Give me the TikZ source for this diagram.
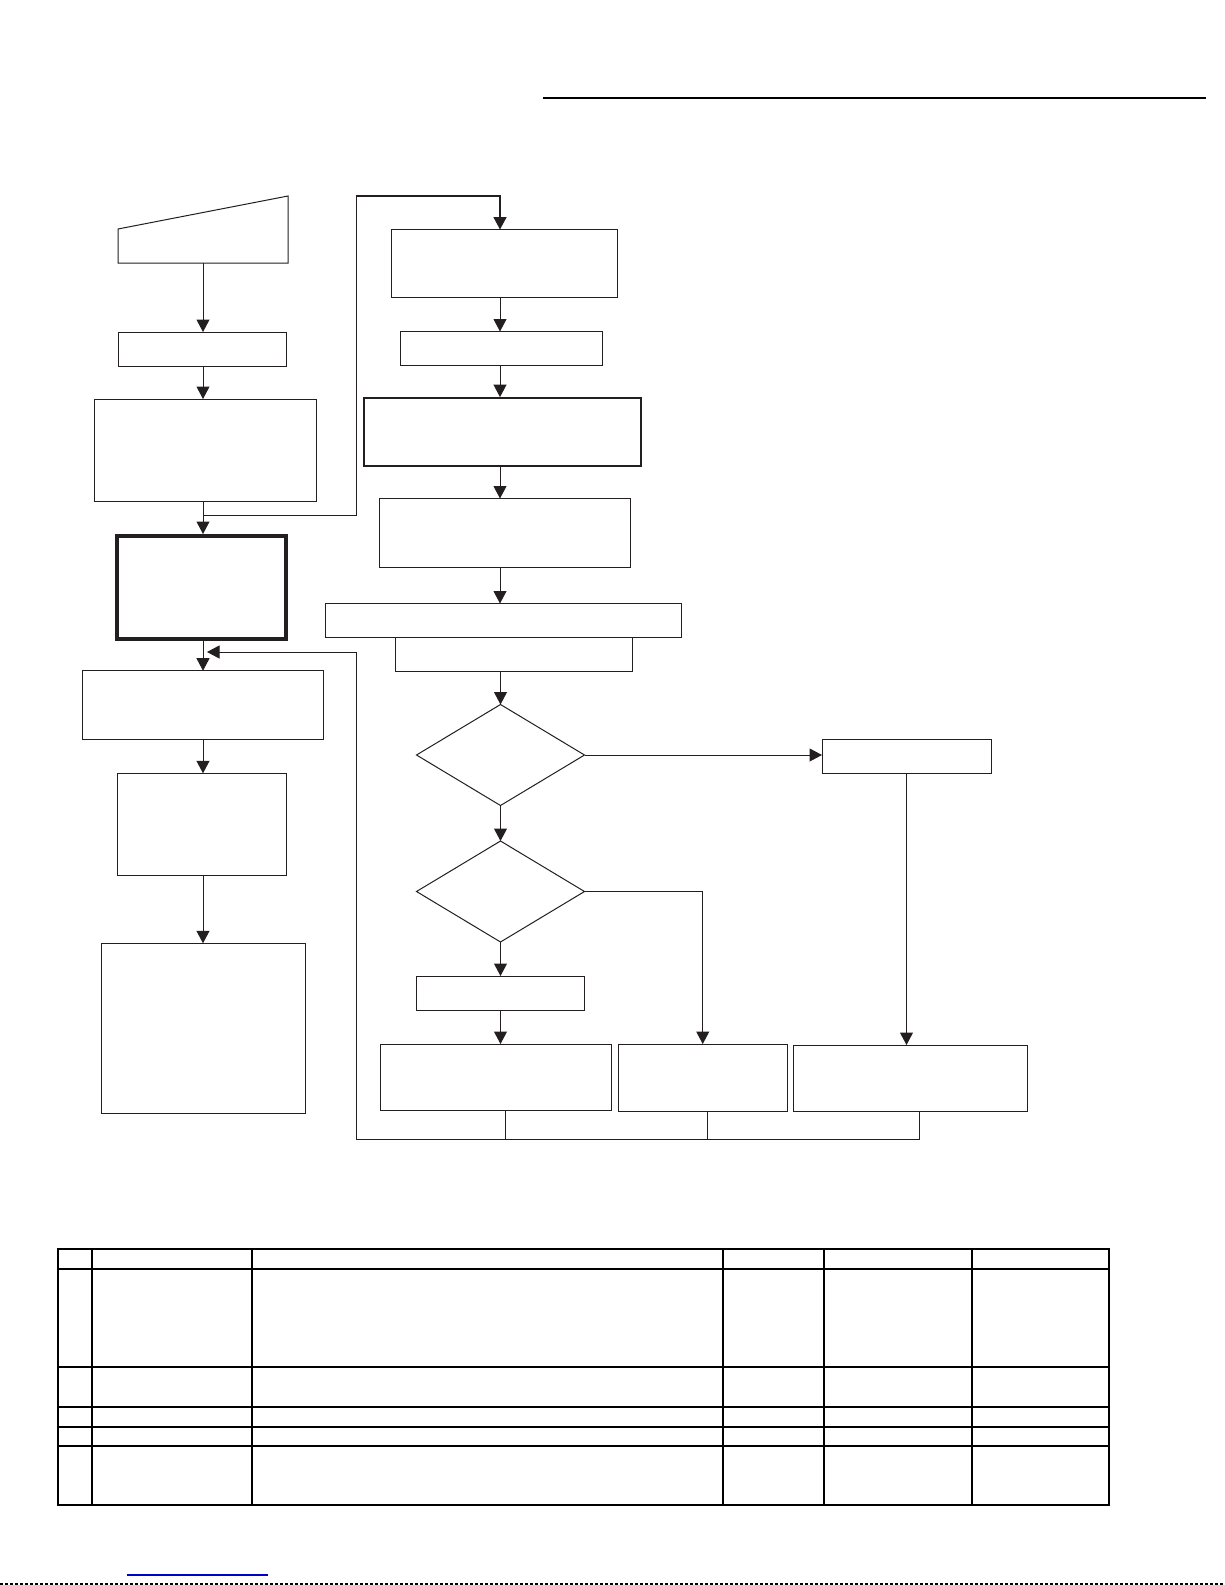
\documentclass[tikz,border=0pt]{standalone}
\usetikzlibrary{arrows.meta,shapes.geometric}
\definecolor{ink}{HTML}{231F20}
\definecolor{linkblue}{RGB}{0,0,204}
\newcommand\pbox[6]{%
  \pgfmathsetmacro\pbcx{(#3+#5)/2}%
  \pgfmathsetmacro\pbcy{(#4+#6)/2}%
  \pgfmathsetmacro\pbw{#5-#3}%
  \pgfmathsetmacro\pbh{#6-#4}%
  \node[#1,minimum width=\pbw pt,minimum height=\pbh pt] (#2) at (\pbcx,\pbcy) {};}
\begin{document}
\begin{tikzpicture}[x=1pt,y=-1pt,
  line/.style={draw=ink,line width=1pt,line join=miter},
  box/.style={draw=ink,line width=1pt,rectangle,inner sep=0pt,outer sep=0pt},
  thickbox/.style={box,line width=4pt},
  medbox/.style={box,line width=1.8pt},
  dec/.style={draw=ink,line width=1pt,diamond,inner sep=0pt,outer sep=0pt,minimum width=168pt,minimum height=101pt},
  arr/.style={line,-{Triangle[width=13pt,length=12.5pt]}},
  tbl/.style={draw=black,line width=1.3pt},
  tblthick/.style={draw=black,line width=2.6pt}]
\useasboundingbox (0,0) rectangle (1225,1585);
\fill[white] (0,0) rectangle (1225,1585);

% header rule
\draw[black,line width=2.2pt] (543,98) -- (1206,98);

% left column
\draw[line] (118,229) -- (288,196) -- (288,263) -- (118,263) -- cycle;
\coordinate (mi) at (203,263);
\pbox{box}{b1}{118}{332}{286}{366}
\pbox{box}{b2}{94.5}{399}{316.5}{501}
\pbox{thickbox}{b3}{117.3}{536}{286.3}{638.7}
\pbox{box}{b5}{82.3}{670.7}{323.5}{739}
\pbox{box}{b6}{117.3}{773.3}{286.7}{875}
\pbox{box}{b7}{101.3}{943.3}{305.7}{1113.3}

% right column
\pbox{box}{b4}{391.5}{229.5}{617}{297}
\pbox{box}{r2}{400.5}{331.5}{602.7}{365}
\pbox{medbox}{r3}{364}{398}{641}{466}
\pbox{box}{r4}{379}{498.5}{630}{567}
\pbox{box}{r5}{325.5}{603.5}{681.5}{637}
\pbox{box}{r6}{395.7}{637}{632.5}{671.5}
\node[dec] (d1) at (500.5,755) {};
\node[dec] (d2) at (500.5,891.5) {};
\pbox{box}{rr}{822}{739}{991}{773}
\pbox{box}{rb}{416.5}{976}{584.5}{1010}
\pbox{box}{q1}{380}{1044}{611.5}{1110.5}
\pbox{box}{q2}{618.5}{1044}{787}{1111.5}
\pbox{box}{q3}{793}{1045}{1027}{1111.5}

% left connectors
\coordinate (lc) at (203,0);
\draw[arr] (mi) -- (mi |- b1.north);
\draw[arr] (b1.south -| lc) -- (b2.north -| lc);
\draw[arr] (b2.south -| lc) -- ([yshift=2pt]b3.north -| lc);
\draw[arr] ([yshift=-2pt]b3.south -| lc) -- (b5.north -| lc);
\draw[arr] (b5.south -| lc) -- (b6.north -| lc);
\draw[arr] (b6.south -| lc) -- (b7.north -| lc);

% branch to right column
\coordinate (br) at (203,515);
\coordinate (c1) at (356,515);
\coordinate (c2) at (356,196);
\coordinate (c3) at (500,196);
\draw[line] (br) -- (c1) -- (c2);
\draw[arr,line width=1.8pt] (c2) -- (c3) -- (b4.north -| c3);

% right connectors
\coordinate (rc) at (500,0);
\draw[arr] (b4.south -| rc) -- (r2.north -| rc);
\draw[arr] (r2.south -| rc) -- ([yshift=0.9pt]r3.north -| rc);
\draw[arr] ([yshift=-0.9pt]r3.south -| rc) -- (r4.north -| rc);
\draw[arr] (r4.south -| rc) -- (r5.north -| rc);
\draw[arr] (r6.south -| d1.north) -- (d1.north);
\draw[arr] (d1.south) -- (d2.north);
\draw[arr] (d1.east) -- (rr.west |- d1.east);
\draw[arr] (d2.south) -- (rb.north -| d2.south);
\draw[arr] (rb.south -| d2.south) -- (q1.north -| d2.south);
\draw[arr] (d2.east) -| (q2.north);
\draw[arr] (rr.south) -- (rr.south |- q3.north);

% return loop
\coordinate (k1) at (505,1139.5);
\coordinate (k2) at (707,1139.5);
\coordinate (k3) at (919,1139.5);
\coordinate (lb) at (356,1139.5);
\coordinate (lt) at (356,652);
\coordinate (lin) at (207,652);
\draw[line] (q1.south -| k1) -- (k1);
\draw[line] (q2.south -| k2) -- (k2);
\draw[line] (q3.south -| k3) -- (k3);
\draw[arr] (k3) -- (lb) -- (lt) -- (lin);

% table
\draw[tbl] (58,1249) rectangle (1109,1505);
\foreach \yy in {1269,1367,1407,1446} \draw[tbl] (58,\yy) -- (1109,\yy);
\draw[tblthick] (58,1427) -- (1109,1427);
\foreach \xx in {92,252,723,972} \draw[tbl] (\xx,1249) -- (\xx,1505);
\draw[tblthick] (824,1249) -- (824,1505);

% footer
\draw[linkblue,line width=1.5pt] (127,1575) -- (268,1575);
\draw[black,line width=1.4pt,dash pattern=on 3pt off 2pt] (0,1584) -- (1225,1584);
\end{tikzpicture}
\end{document}
